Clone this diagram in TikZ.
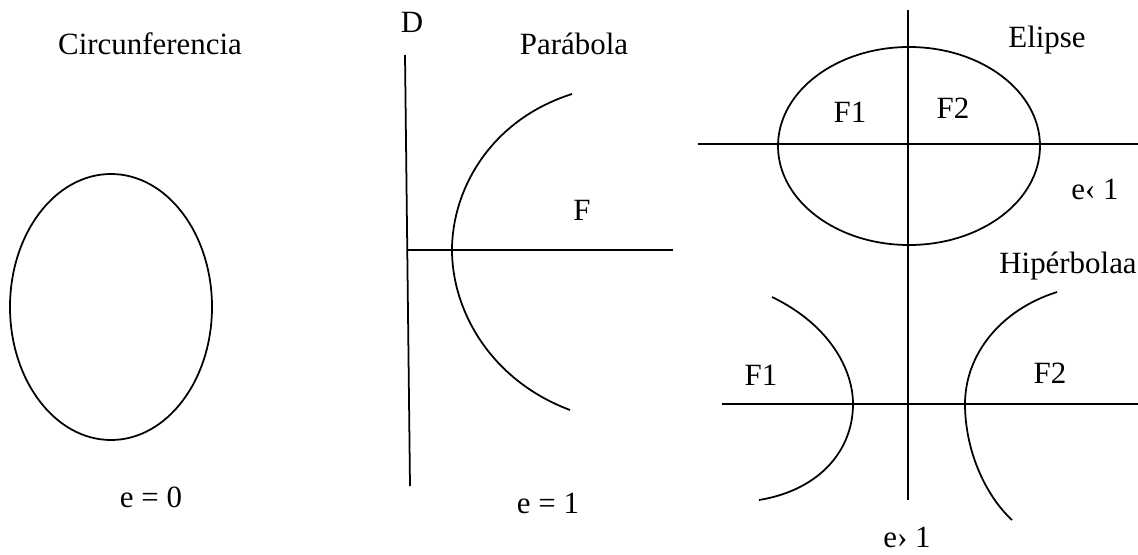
\documentclass[tikz,border=0pt]{standalone}
\usepackage{fontspec}
\setmainfont{Liberation Serif}
\begin{document}
\begin{tikzpicture}[x=0.02cm, y=-0.02cm, line width=1pt,
  every node/.style={font=\fontsize{17.6}{20}\selectfont, inner sep=0pt, anchor=base},
  curve/.style={line width=1pt}]
  \useasboundingbox (0,0) rectangle (1138,554);
  % circle: e = 0
  \draw[curve] (111,307) ellipse [x radius=101, y radius=133];
  \node (circname) at (150,55) {Circunferencia};
  \node (circecc) at (151,507) {e = 0};
  % parabola: directrix D, axis and the arc
  \coordinate (dtop) at (405,55);
  \coordinate (dbot) at (410,486);
  \draw (dtop) -- (dbot);
  \coordinate (paxl) at (408,250);
  \coordinate (paxr) at (673,250);
  \draw (paxl) -- (paxr);
  \draw[curve] (572,94) .. controls (490,120) and (452,190) .. (452,250)
                        .. controls (452,310) and (490,380) .. (570,410);
  \node (dname) at (412,33) {D};
  \node (parname) at (574,55) {Parábola};
  \node (parfoc) at (582,220) {F};
  \node (parecc) at (548,513) {e = 1};
  % ellipse and hyperbola share one vertical axis
  \coordinate (vtop) at (908,10);
  \coordinate (vbot) at (908,500);
  \draw (vtop) -- (vbot);
  \coordinate (eaxl) at (698,144);
  \coordinate (eaxr) at (1138,144);
  \draw (eaxl) -- (eaxr);
  \draw[curve] (909,146) ellipse [x radius=131, y radius=99];
  \node (elname) at (1047,48) {Elipse};
  \node (elfa) at (850,122) {F1};
  \node (elfb) at (953,118) {F2};
  \node (elecc) at (1095,199) {e‹ 1};
  % hyperbola: two branches
  \coordinate (haxl) at (722,404);
  \coordinate (haxr) at (1138,404);
  \draw (haxl) -- (haxr);
  \draw[curve] (772,297) .. controls (830,325) and (853,370) .. (853,404)
                        .. controls (853,450) and (820,490) .. (759,500);
  \draw[curve] (1057,292) .. controls (1000,310) and (965,355) .. (965,404)
                        .. controls (965,450) and (985,495) .. (1012,520);
  \node (hypname) at (1068,273) {Hipérbolaa};
  \node (hypfa) at (761,385) {F1};
  \node (hypfb) at (1050,383) {F2};
  \node (hypecc) at (907,547) {e› 1};
\end{tikzpicture}
\end{document}
